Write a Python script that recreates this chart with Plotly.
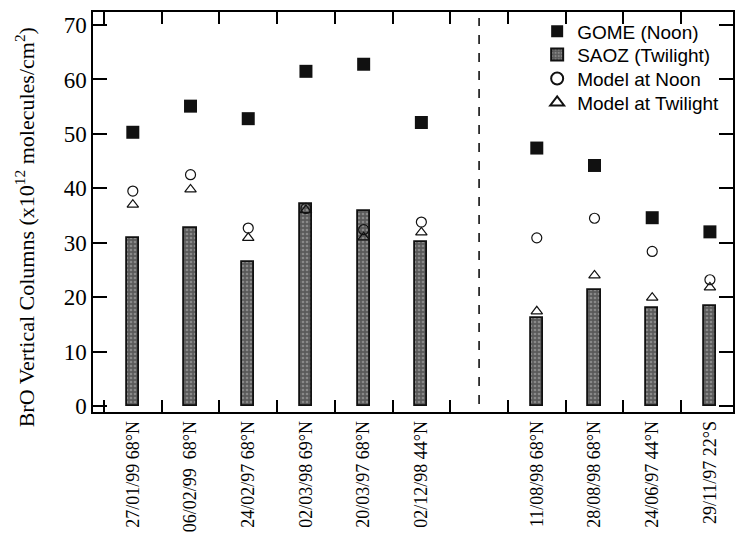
import plotly.graph_objects as go

categories = ["27/01/99 68°N", "06/02/99  68°N", "24/02/97 68°N", "02/03/98 69°N",
              "20/03/97 68°N", "02/12/98 44°N",
              "11/08/98 68°N", "28/08/98 68°N", "24/06/97 44°N", "29/11/97 22°S"]
gome_noon = [50.3, 55.1, 52.8, 61.5, 62.8, 52.1, 47.4, 44.2, 34.6, 32.0]
saoz_twilight = [30.9, 32.7, 26.5, 37.2, 35.8, 30.1, 16.2, 21.3, 18.0, 18.4]
model_noon = [39.5, 42.5, 32.7, 36.3, 32.4, 33.8, 30.9, 34.5, 28.4, 23.2]
model_twilight = [37.0, 39.8, 30.9, 36.0, 31.0, 31.9, 17.4, 24.0, 19.9, 21.8]
y_ticks = [0, 10, 20, 30, 40, 50, 60, 70]
y_title = "BrO Vertical Columns (x10<sup>12</sup> molecules/cm<sup>2</sup>)"
n_first_group = 6  # groups separated by an empty slot (dashed line)

# slot positions: first group 0..5, gap at 6, second group 7..10
xpos = [i if i < n_first_group else i + 1 for i in range(len(categories))]
gap_pos = n_first_group
boundaries = [i - 0.5 for i in range(0, len(categories) + 2)]
x_range = [-0.69, 10.40]

serif = "Liberation Serif"
sans = "Liberation Sans"

fig = go.Figure()
fig.add_trace(go.Scatter(
    x=xpos, y=gome_noon, mode="markers", name="GOME (Noon)", legend="legend",
    marker=dict(symbol="square", size=13, color="#111111"),
))
fig.add_trace(go.Bar(
    x=xpos, y=saoz_twilight, name="SAOZ (Twilight)", width=0.21, legend="legend2",
    marker=dict(color="#5a5a5a", line=dict(color="#111111", width=1.8),
                pattern=dict(shape=".", fgcolor="#b8b8b8", size=4, solidity=0.35)),
))
fig.add_trace(go.Scatter(
    x=xpos, y=model_noon, mode="markers", name="Model at Noon", legend="legend3",
    marker=dict(symbol="circle-open", size=10, color="#111111", line=dict(width=1.2)),
))
fig.add_trace(go.Scatter(
    x=xpos, y=model_twilight, mode="markers", name="Model at Twilight", legend="legend4",
    marker=dict(symbol="triangle-up-open", size=10, color="#111111", line=dict(width=1.2)),
))
# helper invisible trace so the tick-only axis is drawn
fig.add_trace(go.Scatter(
    x=[x_range[0]], y=[0], xaxis="x2", mode="markers", showlegend=False,
    marker=dict(opacity=0), hoverinfo="skip",
))

fig.add_shape(type="line", xref="x", yref="paper", x0=gap_pos, x1=gap_pos, y0=0.02, y1=0.985,
              line=dict(color="black", width=1.5, dash="dash"))

def leg(y):
    return dict(x=0.694, y=y, xanchor="left", yanchor="top",
                font=dict(family=sans, size=19, color="black"),
                bgcolor="rgba(0,0,0,0)", itemwidth=30, itemsizing="constant")

fig.update_layout(
    width=745, height=541,
    margin=dict(l=93, r=12, t=12, b=129, autoexpand=False),
    plot_bgcolor="white", paper_bgcolor="white",
    showlegend=True,
    legend=leg(0.999), legend2=leg(0.941), legend3=leg(0.881), legend4=leg(0.821),
    bargap=0,
    xaxis2=dict(
        overlaying="x", side="bottom", range=x_range, tickmode="array",
        tickvals=boundaries, ticks="inside", ticklen=12, tickwidth=1.5,
        tickcolor="black", showticklabels=False, showgrid=False, zeroline=False,
        showline=False, mirror="ticks",
    ),
)
fig.layout.xaxis.update(
    range=x_range, tickmode="array", tickvals=xpos, ticktext=categories,
    tickangle=-90, ticks="", showgrid=False, zeroline=False,
    tickfont=dict(family=serif, size=18, color="black"),
    showline=True, linecolor="black", linewidth=1.5, mirror=True,
)
fig.update_yaxes(
    range=[-1.1, 72.4], tickmode="array", tickvals=y_ticks,
    ticks="inside", ticklen=14, tickwidth=1.5, tickcolor="black",
    showgrid=False, zeroline=False,
    tickfont=dict(family=serif, size=23, color="black"),
    showline=True, linecolor="black", linewidth=1.5, mirror="ticks",
)
fig.add_annotation(
    text=y_title, textangle=-90, xref="paper", yref="paper",
    x=-0.106, y=0.462, xanchor="center", yanchor="middle", showarrow=False,
    font=dict(family=serif, size=22, color="black"),
)

fig.write_html("out.html", post_script="document.body.style.margin='0';",
               config={"displayModeBar": False})
